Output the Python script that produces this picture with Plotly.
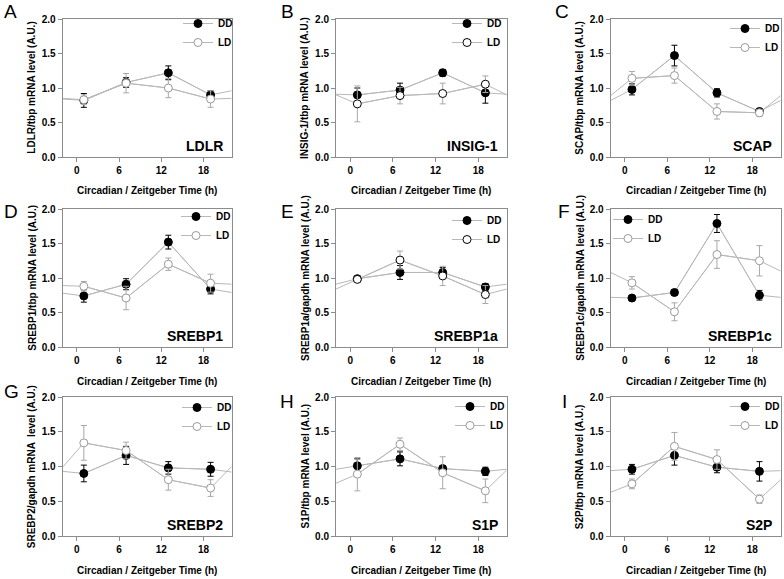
import plotly.graph_objects as go

# sampling times (h) and the x window shown on every panel
hours = [1, 7, 13, 19]
x_left, x_right = -2, 22
x_ticks = [0, 6, 12, 18]

genes = ["LDLR", "INSIG-1", "SCAP", "SREBP1", "SREBP1a", "SREBP1c", "SREBP2", "S1P", "S2P"]
letters = ["A", "B", "C", "D", "E", "F", "G", "H", "I"]
y_titles = [
    "LDLR/tbp mRNA level (A.U.)",
    "INSIG-1/tbp mRNA level (A.U.)",
    "SCAP/tbp mRNA level (A.U.)",
    "SREBP1/tbp mRNA level (A.U.)",
    "SREBP1a/gapdh mRNA level (A.U.)",
    "SREBP1c/gapdh mRNA level (A.U.)",
    "SREBP2/gapdh mRNA  level (A.U.)",
    "S1P/tbp mRNA level (A.U.)",
    "S2P/tbp mRNA level (A.U.)",
]

# DD (constant darkness) means and SEM
dd_vals = [
    [0.82, 1.08, 1.22, 0.90],
    [0.90, 0.97, 1.22, 0.93],
    [0.98, 1.47, 0.93, 0.66],
    [0.74, 0.91, 1.52, 0.84],
    [0.99, 1.08, 1.08, 0.87],
    [0.71, 0.79, 1.79, 0.75],
    [0.90, 1.16, 0.98, 0.96],
    [1.01, 1.11, 0.97, 0.93],
    [0.96, 1.16, 0.99, 0.93],
]
dd_err = [
    [0.10, 0.07, 0.10, 0.06],
    [0.10, 0.10, 0.05, 0.15],
    [0.08, 0.15, 0.06, 0.03],
    [0.09, 0.08, 0.10, 0.07],
    [0.03, 0.10, 0.07, 0.05],
    [0.03, 0.04, 0.13, 0.07],
    [0.12, 0.13, 0.09, 0.10],
    [0.10, 0.10, 0.04, 0.06],
    [0.07, 0.14, 0.08, 0.14],
]
# value of the DD line where it leaves the plot (left edge, right edge)
dd_edges = [
    [0.84, 0.96],
    [0.91, 0.91],
    [0.82, 0.82],
    [0.78, 0.79],
    [0.91, 0.91],
    [0.72, 0.72],
    [0.93, 0.92],
    [0.96, 0.96],
    [0.94, 0.94],
]

# LD (light/dark) means and SEM
ld_vals = [
    [0.83, 1.07, 1.00, 0.84],
    [0.77, 0.89, 0.92, 1.055],
    [1.14, 1.18, 0.66, 0.64],
    [0.88, 0.71, 1.20, 0.925],
    [0.98, 1.26, 1.03, 0.76],
    [0.93, 0.51, 1.34, 1.25],
    [1.34, 1.23, 0.81, 0.69],
    [0.89, 1.32, 0.91, 0.65],
    [0.75, 1.29, 1.10, 0.53],
]
ld_err = [
    [0.07, 0.14, 0.14, 0.12],
    [0.26, 0.12, 0.15, 0.12],
    [0.10, 0.11, 0.11, 0.05],
    [0.07, 0.17, 0.09, 0.13],
    [0.04, 0.13, 0.14, 0.13],
    [0.09, 0.13, 0.20, 0.22],
    [0.25, 0.12, 0.15, 0.12],
    [0.24, 0.09, 0.23, 0.17],
    [0.07, 0.20, 0.14, 0.06],
]
ld_edges = [
    [0.85, 0.85],
    [0.90, 0.90],
    [0.89, 0.89],
    [0.89, 0.91],
    [0.84, 0.84],
    [1.08, 1.10],
    [0.99, 1.00],
    [0.76, 0.95],
    [0.63, 0.81],
]

# ---- layout (pixels of the 784x579 figure) ----
W, H = 784, 579
col_px = [(62.7, 231.7), (336, 506.7), (610.7, 780.7)]
row_px = [(19, 157), (209, 347), (397, 536)]
# legend marker centre (x, y of DD row) per panel
legend_px = [(198, 26), (467, 26), (745, 31), (196, 219), (467, 223),
             (628, 222), (197, 410), (470, 409), (745, 409)]
letter_px = [(10, 12), (287, 12), (562, 12), (11, 211), (287, 211),
             (564, 211), (11, 391), (287, 401), (564, 401)]
ld_outline = ["#9a9a9a", "#000000", "#9a9a9a", "#9a9a9a", "#000000",
              "#9a9a9a", "#9a9a9a", "#9a9a9a", "#9a9a9a"]

FONT = "Liberation Sans, Arial, sans-serif"
LINE = "#b8b8b8"
FRAME = "#8c8c8c"

fig = go.Figure()
layout = dict(
    width=W, height=H, autosize=False,
    margin=dict(l=0, r=0, t=0, b=0, autoexpand=False),
    paper_bgcolor="white", plot_bgcolor="white",
    font=dict(family=FONT, color="black"),
    annotations=[],
)

for i, gene in enumerate(genes):
    r, c = divmod(i, 3)
    n = "" if i == 0 else str(i + 1)
    xa, ya = "x" + n, "y" + n
    leg = "legend" + n

    x0, x1 = col_px[c]
    ytop, ybot = row_px[r]
    common = dict(
        showgrid=False, zeroline=False, showline=True, mirror=True, automargin=False,
        linecolor=FRAME, linewidth=1, ticks="outside", ticklen=4,
        tickcolor=FRAME, tickfont=dict(size=10, weight="bold", family=FONT),
    )
    layout["xaxis" + n] = dict(
        common, domain=[x0 / W, x1 / W], anchor=ya,
        range=[x_left, x_right], tickvals=x_ticks,
    )
    layout["yaxis" + n] = dict(
        common, domain=[1 - ybot / H, 1 - ytop / H], anchor=xa,
        range=[0, 2], tickvals=[0, 0.5, 1.0, 1.5, 2.0], tickformat=".1f",
    )

    lx, ly = legend_px[i]
    layout[leg] = dict(
        x=(lx - 20) / W, y=1 - (ly - 17) / H, xanchor="left", yanchor="top",
        bgcolor="rgba(0,0,0,0)", itemwidth=30,
        font=dict(size=10, weight="bold", family=FONT),
    )

    # connecting lines running out to the plot edges
    for vals, edges in ((dd_vals[i], dd_edges[i]), (ld_vals[i], ld_edges[i])):
        fig.add_trace(go.Scatter(
            x=[x_left] + hours + [x_right], y=[edges[0]] + vals + [edges[1]],
            mode="lines", line=dict(color=LINE, width=1),
            showlegend=False, hoverinfo="skip", xaxis=xa, yaxis=ya,
        ))

    fig.add_trace(go.Scatter(
        x=hours, y=dd_vals[i], name="DD", mode="lines+markers",
        line=dict(color=LINE, width=1),
        marker=dict(size=8, color="black", line=dict(color="black", width=1)),
        error_y=dict(type="data", array=dd_err[i], color="black", thickness=1, width=3),
        legend=leg, legendrank=1, xaxis=xa, yaxis=ya,
    ))
    fig.add_trace(go.Scatter(
        x=hours, y=ld_vals[i], name="LD", mode="lines+markers",
        line=dict(color=LINE, width=1),
        marker=dict(size=8, color="white", line=dict(color=ld_outline[i], width=1)),
        error_y=dict(type="data", array=ld_err[i], color="#a8a8a8", thickness=1, width=3),
        legend=leg, legendrank=2, xaxis=xa, yaxis=ya,
    ))

    ann = layout["annotations"]
    ann.append(dict(
        text=y_titles[i], xref=xa + " domain", yref=ya + " domain",
        x=0, y=0.5, xshift=-31, textangle=-90, showarrow=False,
        xanchor="center", yanchor="middle",
        font=dict(size=10, weight="bold", family=FONT),
    ))
    ann.append(dict(
        text="Circadian / Zeitgeber Time (h)", xref=xa + " domain", yref=ya + " domain",
        x=0.5, y=0, yshift=-34, showarrow=False, xanchor="center", yanchor="middle",
        font=dict(size=10, weight="bold", family=FONT),
    ))
    ann.append(dict(
        text=gene, xref=xa + " domain", yref=ya + " domain",
        x=0.96, y=0.01, showarrow=False, xanchor="right", yanchor="bottom",
        font=dict(size=14, weight="bold", family=FONT),
    ))
    px_, py_ = letter_px[i]
    ann.append(dict(
        text=letters[i], xref="paper", yref="paper",
        x=px_ / W, y=1 - py_ / H, showarrow=False, xanchor="center", yanchor="middle",
        font=dict(size=19, family=FONT),
    ))

fig.update_layout(**layout)
fig.write_html(
    "out.html",
    config={"displayModeBar": False},
    post_script="document.body.style.margin='0px';",
)
